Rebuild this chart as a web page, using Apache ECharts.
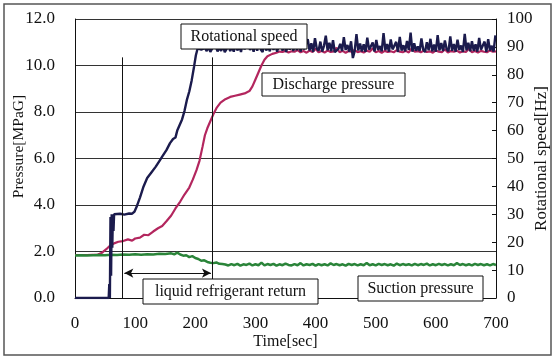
<!DOCTYPE html>
<html><head><meta charset="utf-8">
<script src="https://cdn.jsdelivr.net/npm/echarts@6/dist/echarts.min.js"></script>
<style>html,body{margin:0;padding:0;background:#fff}#c{width:555px;height:360px}</style>
</head><body><div id="c"></div>
<script>
// Rotational speed [Hz] during start-up: [time sec, Hz]
var speedRamp = [[0,0],[56,0],[57,5],[58,0],[59,29],[60,8],[61,30],[62,18],[63,30],[64,24],[65,30],[68,30],[75,30.2],[82,29.9],[90,30.3],[95,30.2],[99,31],[103,33],[108,36],[114,40],[120,43],[127,45],[134,47],[140,49],[146,51],[152,53],[158,55.5],[163,57],[167,57.5],[170,60],[174,62],[178,64],[182,67],[186,71],[190,74],[194,78],[198,83],[201,87],[204,89.5],[207,89.8]];
// steady rotational speed from t=210 s, every 3 s
var speedSteadyStart = 210, speedSteadyStep = 3;
var speedSteady = [89.0,88.3,89.6,88.5,90.1,88.2,89.4,88.8,90.3,88.4,
  89.7,88.6,90.5,88.1,89.2,90.8,88.5,89.9,88.3,91.0,
  88.7,90.4,88.2,91.6,89.1,88.4,92.3,88.9,90.6,88.3,
  91.2,88.6,93.4,89.0,88.2,91.8,88.7,90.2,88.4,92.6,
  88.9,91.1,88.3,90.5,93.9,88.6,91.4,88.2,90.8,89.0,
  92.2,88.5,91.7,88.8,94.4,88.3,90.9,89.1,88.4,92.8,
  88.7,91.3,88.2,93.1,89.4,88.6,91.9,88.3,90.4,94.0,
  88.8,91.5,88.4,92.4,88.1,88.4,89.3,91.1,88.5,93.5,
  88.9,90.7,88.3,92.0,86.0,88.5,94.6,88.7,91.2,88.4,
  90.9,88.2,93.3,89.0,88.6,91.6,88.3,92.5,88.9,90.3,
  88.4,94.9,88.8,91.0,88.3,92.7,89.1,88.5,91.8,88.2,
  93.6,88.7,90.6,88.4,92.1,88.9,95.1,88.3,91.3,88.6,
  90.2,88.5,93.0,89.0,88.2,91.7,88.8,92.9,88.4,90.8,
  88.3,94.2,88.7,91.4,88.5,92.3,89.2,88.4,93.8,88.6,
  91.0,88.3,92.6,88.9,90.5,88.2,94.7,88.8,91.5,88.4,
  92.0,88.6,90.9,88.3,93.2,89.0,88.5,91.9,88.2,92.8,
  88.7,90.4,88.3,94.1];

// Discharge pressure [MPaG]: [time sec, MPa]
var dischargeRamp = [[0,1.85],[20,1.85],[38,1.87],[45,1.95],[52,2.1],[58,2.25],[65,2.35],[72,2.42],[80,2.45],[88,2.52],[95,2.47],[100,2.56],[108,2.6],[115,2.72],[122,2.7],[130,2.86],[138,3.0],[145,3.1],[152,3.3],[160,3.55],[167,3.85],[175,4.15],[182,4.45],[190,4.75],[196,5.1],[202,5.5],[207,5.9],[212,6.5],[216,7.0],[220,7.3],[225,7.6],[230,7.9],[236,8.2],[242,8.4],[250,8.55],[258,8.65],[266,8.7],[274,8.75],[282,8.8],[290,8.9],[295,9.1],[300,9.4],[305,9.7],[310,10.0],[315,10.25],[320,10.4],[328,10.5],[335,10.55],[340,10.6]];
var dischargeSteadyStart = 345, dischargeSteadyStep = 5;
var dischargeSteady = [10.58,10.63,10.56,10.61,10.59,10.66,10.57,10.62,10.55,10.64,
  10.58,10.72,10.57,10.62,10.56,10.64,10.58,10.61,10.76,10.57,
  10.63,10.55,10.62,10.59,10.67,10.57,10.61,10.56,10.64,10.59,
  10.74,10.57,10.62,10.55,10.63,10.58,10.61,10.57,10.66,10.59,
  10.57,10.63,10.56,10.75,10.59,10.62,10.57,10.64,10.58,10.61,
  10.55,10.65,10.59,10.57,10.7,10.56,10.62,10.59,10.64,10.56,
  10.61,10.58,10.73,10.57,10.62,10.56,10.63,10.59,10.57,10.65,
  10.59,10.61];

// Suction pressure [MPaG]: [time sec, MPa]
var suctionRamp = [[0,1.83],[10,1.84],[20,1.83],[30,1.84],[40,1.85],[50,1.84],[60,1.86],[70,1.85],[80,1.87],[90,1.86],[100,1.88],[110,1.86],[120,1.88],[130,1.87],[140,1.9],[150,1.89],[160,1.92],[165,1.88],[170,1.95],[175,1.87],[180,1.82],[185,1.84],[190,1.76],[195,1.8],[200,1.72],[205,1.68],[210,1.6],[215,1.62],[220,1.55],[225,1.52],[230,1.5],[235,1.53],[240,1.47],[245,1.46]];
var suctionSteadyStart = 250, suctionSteadyStep = 5;
var suctionSteady = [1.44,1.4,1.46,1.41,1.47,1.39,1.45,1.42,1.48,1.4,1.45,1.41,1.52,1.4,1.46,1.42,1.47,1.39,1.45,1.41,1.48,1.42,1.4,1.46,1.41,1.5,1.4,1.45,1.42,1.47,1.39,1.46,1.41,1.45,1.4,1.49,1.42,1.46,1.41,1.45,1.39,1.47,1.42,1.46,1.4,1.45,1.41,1.51,1.41,1.45,1.4,1.47,1.42,1.46,1.41,1.45,1.39,1.48,1.41,1.46,1.42,1.45,1.4,1.47,1.41,1.46,1.42,1.48,1.4,1.45,1.41,1.47,1.42,1.46,1.4,1.45,1.41,1.5,1.42,1.46,1.41,1.45,1.4,1.47,1.42,1.46,1.41,1.45,1.4,1.46,1.42];

// Axis ticks
var xTicks = [0,100,200,300,400,500,600,700];
var pressureMax = 12, pressureStep = 2;
var speedMax = 100, speedStep = 10;

// Annotation marks
var liquidReturnStart = 78, liquidReturnEnd = 228, markerTop = 10.35, arrowLevel = 1.07;

function join(ramp, start, step, vals) {
  var out = ramp.slice();
  for (var i = 0; i < vals.length; i++) out.push([start + i * step, vals[i]]);
  return out;
}
var speedData = join(speedRamp, speedSteadyStart, speedSteadyStep, speedSteady);
var dischargeData = join(dischargeRamp, dischargeSteadyStart, dischargeSteadyStep, dischargeSteady);
var suctionData = join(suctionRamp, suctionSteadyStart, suctionSteadyStep, suctionSteady);

var FONT = "'Liberation Serif','Times New Roman',serif";
var chart = echarts.init(document.getElementById('c'), null, {renderer: 'canvas'});

function box(x, y, w, h, text) {
  return {
    type: 'group', x: x, y: y, z: 100,
    children: [
      {type: 'rect', z: 100, shape: {x: 0, y: 0, width: w, height: h}, style: {fill: '#fff', stroke: '#111', lineWidth: 1}},
      {type: 'text', z: 101, x: w / 2, y: h / 2, style: {text: text, font: '16px ' + FONT, fill: '#111', align: 'center', verticalAlign: 'middle'}}
    ]
  };
}

chart.setOption({
  animation: false,
  backgroundColor: '#fff',
  grid: {left: 75, right: 59, top: 19, bottom: 62, containLabel: false, outerBoundsMode: 'none'},
  xAxis: {
    type: 'value', min: 0, max: 700, interval: 100,
    axisLine: {show: true, lineStyle: {color: '#111', width: 1}},
    axisTick: {show: false},
    splitLine: {show: false},
    axisLabel: {color: '#111', fontSize: 17, fontFamily: FONT, margin: 17,
      customValues: xTicks},
    name: 'Time[sec]', nameLocation: 'middle', nameGap: 36, nameMoveOverlap: false,
    nameTextStyle: {color: '#111', fontSize: 16, fontFamily: FONT}
  },
  yAxis: [{
    type: 'value', min: 0, max: pressureMax, interval: pressureStep,
    axisLine: {show: true, lineStyle: {color: '#111', width: 1}},
    axisTick: {show: false},
    splitLine: {show: true, lineStyle: {color: '#333', width: 1}},
    axisLabel: {color: '#111', fontSize: 17, fontFamily: FONT, margin: 20,
      formatter: function (v) { return v.toFixed(1); }},
    name: 'Pressure[MPaG]', nameLocation: 'middle', nameGap: 48, nameMoveOverlap: false,
    nameTextStyle: {color: '#111', fontSize: 15.5, fontFamily: FONT, padding: [0, 0, 0, 24]}
  }, {
    type: 'value', min: 0, max: speedMax, interval: speedStep, position: 'right',
    axisLine: {show: true, lineStyle: {color: '#111', width: 1}},
    axisTick: {show: true, inside: true, length: 4, lineStyle: {color: '#111'}},
    splitLine: {show: false},
    axisLabel: {color: '#111', fontSize: 17, fontFamily: FONT, margin: 11},
    name: 'Rotational speed[Hz]', nameLocation: 'middle', nameGap: 37, nameRotate: 90, nameMoveOverlap: false,
    nameTextStyle: {color: '#111', fontSize: 17, fontFamily: FONT}
  }],
  series: [{
    name: 'Discharge pressure', type: 'line', yAxisIndex: 0, data: dischargeData,
    showSymbol: false, lineStyle: {color: '#b3265e', width: 2.2}, z: 2,
    markLine: {
      silent: true, symbol: 'none', label: {show: false},
      lineStyle: {color: '#111', width: 1, type: 'solid'},
      data: [
        [{coord: [liquidReturnStart, 0]}, {coord: [liquidReturnStart, markerTop]}],
        [{coord: [liquidReturnEnd, 0]}, {coord: [liquidReturnEnd, markerTop]}],
        [{coord: [liquidReturnStart + 4, arrowLevel], symbol: 'arrow', symbolSize: [7, 9]},
         {coord: [liquidReturnEnd - 2, arrowLevel], symbol: 'arrow', symbolSize: [7, 9]}]
      ]
    }
  }, {
    name: 'Suction pressure', type: 'line', yAxisIndex: 0, data: suctionData,
    showSymbol: false, lineStyle: {color: '#2a8439', width: 2.5}, z: 3
  }, {
    name: 'Rotational speed', type: 'line', yAxisIndex: 1, data: speedData,
    showSymbol: false, lineStyle: {color: '#1b1b4d', width: 2.4}, z: 4
  }],
  graphic: [
    {type: 'rect', z: 0, silent: true, shape: {x: 4, y: 4, width: 547, height: 351}, style: {fill: 'none', stroke: '#555', lineWidth: 1.5}},
    box(181, 24, 126, 25, 'Rotational speed'),
    box(262, 73, 143, 23, 'Discharge pressure'),
    box(143, 279, 175, 25, 'liquid refrigerant return'),
    box(358, 276, 125, 25, 'Suction pressure')
  ]
});
</script></body></html>
